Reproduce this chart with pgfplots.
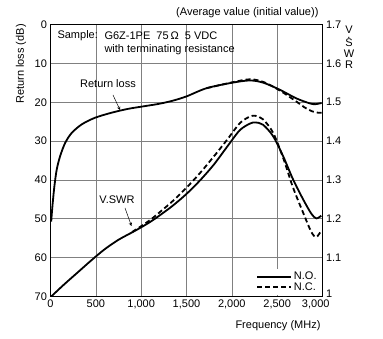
\documentclass[border=0pt]{standalone}
\usepackage{pgfplots}
\pgfplotsset{compat=1.18}
\usepackage{fontspec}
\setmainfont{Liberation Sans}
\begin{document}
\begin{tikzpicture}[x=1pt,y=1pt,font=\fontsize{11}{13}\selectfont]
\useasboundingbox (0,0) rectangle (383,339);
\begin{axis}[
  at={(50.5pt,42.5pt)}, anchor=south west,
  scale only axis, width=272pt, height=272pt,
  xmin=0, xmax=3000, ymin=0, ymax=70, y dir=reverse,
  xtick={0,500,1000,1500,2000,2500,3000},
  xticklabels={0,500,{1,000},{1,500},{2,000},{2,500},{\llap{3,000\kern-7pt}}},
  ytick={0,10,20,30,40,50,60,70},
  yticklabels={\raisebox{-5pt}{0},10,20,30,40,50,60,70},
  grid=major, grid style={gray, line width=0.6pt},
  axis line style={line width=0.8pt},
  major tick length=0pt,
  tick label style={font=\fontsize{11}{13}\selectfont},
  /pgf/number format/assume math mode=true,
]
\addplot[black, line width=1.8pt, smooth] coordinates {
(8,50.7)(21,46.8)(43,41.6)(69,37.3)(106,33.9)(161,30.5)(234,27.9)(345,25.7)
(491,24.0)(674,22.7)(858,21.7)(1042,21.0)(1200,20.4)(1350,19.6)(1500,18.5)
(1720,16.4)(2000,15.0)(2200,14.4)(2350,15.0)(2530,16.8)(2710,19.0)(2860,20.3)
(2920,20.5)(2990,20.2)};
\addplot[black, line width=1.8pt, smooth, dash pattern=on 5pt off 3pt] coordinates {
(1720,16.4)(2000,14.9)(2200,14.1)(2350,14.8)(2530,17.0)(2710,19.8)(2800,21.3)
(2880,22.3)(2950,22.7)(2990,22.7)};
\end{axis}
\begin{axis}[
  at={(50.5pt,42.5pt)}, anchor=south west,
  scale only axis, width=272pt, height=272pt,
  xmin=0, xmax=3000, ymin=1, ymax=1.7,
  axis x line=none, axis y line*=right,
  axis line style={line width=0.8pt},
  ytick={1,1.1,1.2,1.3,1.4,1.5,1.6,1.7},
  yticklabels={\raisebox{5pt}{1},1.1,1.2,1.3,1.4,1.5,1.6,\raisebox{-6pt}{1.7}},
  major tick length=0pt,
  tick label style={font=\fontsize{11}{13}\selectfont},
  legend style={at={(0.99,0.005)}, anchor=south east, draw=none, fill=white,
    font=\fontsize{11}{13}\selectfont, row sep=-2.5pt, inner sep=1pt},
  legend cell align=left,
  legend image code/.code={\draw[#1] (0pt,0pt) -- (34pt,0pt);},
]
\addplot[black, line width=1.8pt, smooth] coordinates {
(8,1.000)(150,1.031)(300,1.062)(450,1.093)(600,1.122)(750,1.146)(900,1.165)
(1000,1.178)(1100,1.192)(1200,1.208)(1350,1.234)(1500,1.264)(1650,1.299)
(1800,1.339)(1950,1.386)(2088,1.428)(2200,1.445)(2260,1.448)(2344,1.442)
(2454,1.413)(2564,1.362)(2674,1.302)(2784,1.251)(2877,1.213)(2932,1.201)(2987,1.208)};
\addlegendentry{N.O.}
\addplot[black, line width=1.8pt, smooth, dash pattern=on 5pt off 3pt] coordinates {
(900,1.166)(1000,1.181)(1100,1.197)(1200,1.216)(1350,1.246)(1500,1.280)(1650,1.318)
(1800,1.360)(1950,1.404)(2088,1.446)(2198,1.463)(2260,1.465)(2344,1.456)
(2454,1.422)(2564,1.358)(2674,1.281)(2784,1.217)(2877,1.166)(2932,1.153)(2987,1.170)};
\addlegendentry{N.C.}
\end{axis}
\node[rotate=90] at (21,275) {Return loss (dB)};
\node[anchor=east] at (322,326) {(Average value (initial value))};
\node at (278,13) {Frequency (MHz)};
\node[anchor=base, inner sep=0pt, font=\fontsize{11}{11}\selectfont] at (349,305)
  {\begin{tabular}[t]{@{}c@{}}V\\[-6pt].\\[-3pt]S\\W\\R\end{tabular}};
\node[anchor=west] at (54,303) {Sample:};
\node[anchor=west] at (101,303) {G6Z-1PE\ \ 75\,Ω\ \ 5 VDC};
\node[anchor=west] at (101,289) {with terminating resistance};
\node at (108,255) {Return loss};
\draw[-stealth, line width=0.5pt] (113,244) -- (120,229);
\node at (117,139) {V.SWR};
\draw[-stealth, line width=0.5pt] (125,131) -- (131.5,113);
\end{tikzpicture}
\end{document}
